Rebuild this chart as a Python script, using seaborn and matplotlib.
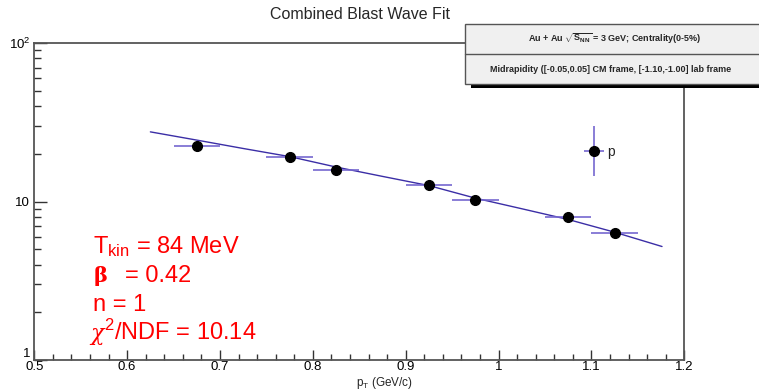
import numpy as np
import pandas as pd
import seaborn as sns
import matplotlib.pyplot as plt
from matplotlib.patches import Rectangle
from matplotlib.ticker import FixedLocator, MultipleLocator, NullFormatter
from matplotlib.legend_handler import HandlerErrorbar
from matplotlib.container import ErrorbarContainer

# proton spectrum points
pt = [0.675, 0.775, 0.825, 0.925, 0.975, 1.075, 1.125]
yields = [22.3, 19.1, 15.7, 12.7, 10.2, 8.04, 6.32]
pt_err = [0.025, 0.025, 0.025, 0.025, 0.025, 0.025, 0.025]
yield_err = [0, 0, 0, 0, 0, 0, 0]

# blast wave fit curve
fit_pt = [0.625, 0.675, 0.725, 0.775, 0.825, 0.875, 0.925, 0.975, 1.025, 1.075, 1.125, 1.176]
fit_y = [27.5, 24.4, 21.6, 19.2, 16.5, 14.4, 12.6, 10.5, 9.0, 7.7, 6.4, 5.2]

ytick_vals = [1, 10, 100]
ytick_labels = ['1', '10', '$10^2$']
xtick_vals = [0.5, 0.6, 0.7, 0.8, 0.9, 1.0, 1.1, 1.2]
xtick_labels = ['0.5', '0.6', '0.7', '0.8', '0.9', '1', '1.1', '1.2']

sns.set_theme(style='ticks')
plt.rcParams['font.family'] = ['Liberation Sans', 'DejaVu Sans']
plt.rcParams['mathtext.fontset'] = 'custom'
plt.rcParams['mathtext.rm'] = 'Liberation Sans'
plt.rcParams['mathtext.it'] = 'Liberation Sans:italic'
plt.rcParams['mathtext.bf'] = 'Liberation Sans:bold'

fig = plt.figure(figsize=(7.59, 3.91), dpi=100)
ax = fig.add_axes([0.0452, 0.0793, 0.8564, 0.8107])

fit_df = pd.DataFrame({'pt': fit_pt, 'y': fit_y})
sns.lineplot(data=fit_df, x='pt', y='y', ax=ax, color='#3b2ea6', lw=1.0, zorder=2)

eb = ax.errorbar(pt, yields, xerr=pt_err, yerr=yield_err, fmt='o', color='black',
                 ms=7, ecolor='#7567cf', elinewidth=1.2, capsize=0, zorder=3, label='p')

ax.set_yscale('log')
ax.set_xlim(0.5, 1.2)
ax.set_ylim(1, 100)
ax.yaxis.set_major_locator(FixedLocator(ytick_vals))
ax.set_yticklabels(ytick_labels)
ax.yaxis.set_minor_formatter(NullFormatter())
ax.xaxis.set_major_locator(FixedLocator(xtick_vals))
ax.set_xticklabels(xtick_labels)
ax.xaxis.set_minor_locator(MultipleLocator(0.02))

ax.tick_params(axis='both', which='both', direction='in', colors='#333333',
               labelcolor='black', labelsize=9.5, width=1.0)
ax.tick_params(axis='y', which='major', length=9.5, pad=3)
ax.tick_params(axis='y', which='minor', length=5)
ax.tick_params(axis='x', which='major', length=7, pad=1)
ax.tick_params(axis='x', which='minor', length=4)
# "1" sits a little above the corner like in ROOT
ax.get_yticklabels()[0].set_va('bottom')
for s in ax.spines.values():
    s.set_color('#555555')
    s.set_linewidth(1.3)
ax.set_xlabel('')
ax.set_ylabel('')

fig.text(0.507, 0.0, r'p$_{\mathrm{T}}$ (GeV/c)', fontsize=8.5, ha='center', va='bottom')
fig.text(0.474, 0.962, 'Combined Blast Wave Fit', fontsize=11.5, ha='center', va='center')

# red fit parameters
red = '#ff0000'
ax.text(0.0905, 0.3375, r'T$_{\mathrm{kin}}$ = 84 MeV', transform=ax.transAxes, color=red,
        fontsize=17, ha='left', va='baseline')
ax.text(0.0905, 0.246, 'β', transform=ax.transAxes, color=red, fontsize=15,
        family='DejaVu Serif', weight='bold', ha='left', va='baseline')
ax.text(0.139, 0.246, '= 0.42', transform=ax.transAxes, color=red, fontsize=17,
        ha='left', va='baseline')
ax.text(0.0905, 0.155, 'n = 1', transform=ax.transAxes, color=red, fontsize=17,
        ha='left', va='baseline')
ax.text(0.086, 0.063, 'χ', transform=ax.transAxes, color=red, fontsize=16,
        family='DejaVu Serif', style='italic', ha='left', va='baseline')
ax.text(0.107, 0.063, r'$^{2}$/NDF = 10.14', transform=ax.transAxes, color=red, fontsize=17,
        ha='left', va='baseline')

# legend with the marker
leg = ax.legend(handles=[eb], labels=['p'], loc='center left', frameon=False,
                bbox_to_anchor=(0.838, 0.657), handlelength=1.2, handletextpad=0.3,
                fontsize=10, borderpad=0,
                handler_map={ErrorbarContainer: HandlerErrorbar(xerr_size=0.72, yerr_size=1.8)})

# header box (top right)
box_fill = '#f0f0f0'
fig.patches.append(Rectangle((471 / 759, 1 - 88 / 391), 1.0, 4.5 / 391,
                             transform=fig.transFigure, facecolor='black',
                             edgecolor='none', zorder=10))
fig.patches.append(Rectangle((465 / 759, 1 - 83.5 / 391), 1.0, 59.5 / 391,
                             transform=fig.transFigure, facecolor=box_fill,
                             edgecolor='#555555', lw=1.0, zorder=11))
fig.lines.append(plt.Line2D([465 / 759, 1.0], [1 - 53.5 / 391, 1 - 53.5 / 391],
                            transform=fig.transFigure, color='#555555', lw=1.0, zorder=12))
fig.text(615 / 759, 1 - 38.5 / 391, r'Au + Au $\sqrt{\mathbf{S_{NN}}}$ = 3 GeV; Centrality(0-5%)',
         fontsize=6.5, weight='bold', ha='center', va='center', zorder=13)
fig.text(611 / 759, 1 - 69 / 391, 'Midrapidity ([-0.05,0.05] CM frame, [-1.10,-1.00] lab frame',
         fontsize=6.5, weight='bold', ha='center', va='center', zorder=13)

fig.savefig('out.png', dpi=100)
